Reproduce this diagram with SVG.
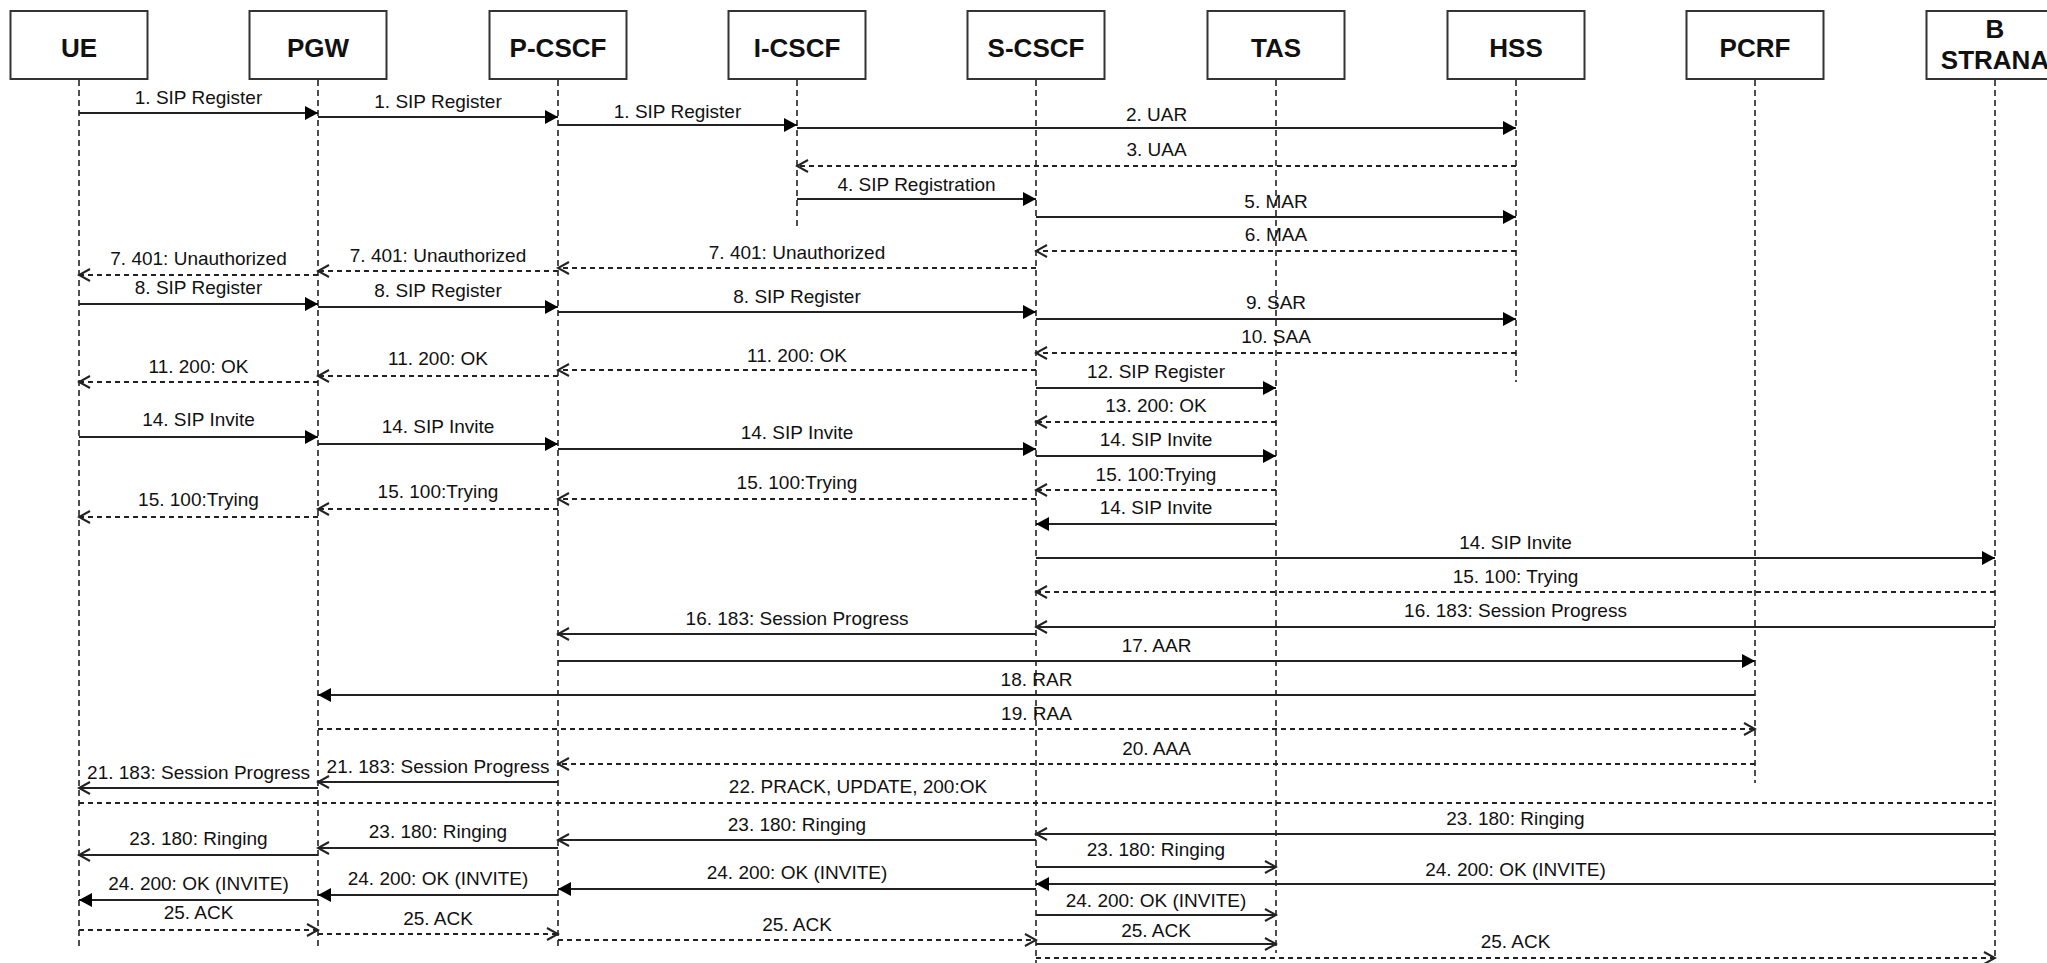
<svg xmlns="http://www.w3.org/2000/svg" width="2047" height="963" viewBox="0 0 2047 963">
<style>
.box{fill:#fff;stroke:#333;stroke-width:2}
.bt{font-family:"Liberation Sans",Arial,sans-serif;font-weight:bold;font-size:26px;text-anchor:middle;fill:#111}
.life{stroke:#222;stroke-width:1.6;stroke-dasharray:6 4;fill:none}
.m{stroke:#222;stroke-width:2;fill:none}
.d{stroke-dasharray:5 4}
.f{marker-end:url(#fa)}
.o{marker-end:url(#oa)}
.lb{font-family:"Liberation Sans",Arial,sans-serif;font-size:19px;text-anchor:middle;fill:#111}
</style>
<defs>
<marker id="fa" markerUnits="userSpaceOnUse" markerWidth="14" markerHeight="14" refX="13" refY="7" orient="auto"><path d="M0,0 L13,7 L0,14 z" fill="#000"/></marker>
<marker id="oa" markerUnits="userSpaceOnUse" markerWidth="14" markerHeight="14" refX="12" refY="7" orient="auto"><path d="M1,1 L12,7 L1,13" fill="none" stroke="#222" stroke-width="2"/></marker>
</defs>
<rect width="2047" height="963" fill="#fff"/>
<g id="lifelines">
<line class="life" x1="79" y1="80" x2="79" y2="947"/>
<line class="life" x1="318" y1="80" x2="318" y2="947"/>
<line class="life" x1="558" y1="80" x2="558" y2="947"/>
<line class="life" x1="797" y1="80" x2="797" y2="228"/>
<line class="life" x1="1036" y1="80" x2="1036" y2="963"/>
<line class="life" x1="1276" y1="80" x2="1276" y2="953"/>
<line class="life" x1="1516" y1="80" x2="1516" y2="382"/>
<line class="life" x1="1755" y1="80" x2="1755" y2="783"/>
<line class="life" x1="1995" y1="80" x2="1995" y2="958"/>
</g>
<g id="UE"><rect class="box" x="10.5" y="11" width="137" height="68"/><text class="bt" x="79" y="57">UE</text></g>
<g id="PGW"><rect class="box" x="249.5" y="11" width="137" height="68"/><text class="bt" x="318" y="57">PGW</text></g>
<g id="P-CSCF"><rect class="box" x="489.5" y="11" width="137" height="68"/><text class="bt" x="558" y="57">P-CSCF</text></g>
<g id="I-CSCF"><rect class="box" x="728.5" y="11" width="137" height="68"/><text class="bt" x="797" y="57">I-CSCF</text></g>
<g id="S-CSCF"><rect class="box" x="967.5" y="11" width="137" height="68"/><text class="bt" x="1036" y="57">S-CSCF</text></g>
<g id="TAS"><rect class="box" x="1207.5" y="11" width="137" height="68"/><text class="bt" x="1276" y="57">TAS</text></g>
<g id="HSS"><rect class="box" x="1447.5" y="11" width="137" height="68"/><text class="bt" x="1516" y="57">HSS</text></g>
<g id="PCRF"><rect class="box" x="1686.5" y="11" width="137" height="68"/><text class="bt" x="1755" y="57">PCRF</text></g>
<g id="B-STRANA"><rect class="box" x="1926.5" y="11" width="137" height="68"/><text class="bt" x="1995" y="38">B</text><text class="bt" x="1995" y="69">STRANA</text></g>
<g id="connectors">
<line class="m f" x1="79" y1="113" x2="318" y2="113"/>
<line class="m f" x1="318" y1="117" x2="558" y2="117"/>
<line class="m f" x1="558" y1="125" x2="797" y2="125"/>
<line class="m f" x1="797" y1="128" x2="1516" y2="128"/>
<line class="m d o" x1="1516" y1="166" x2="797" y2="166"/>
<line class="m f" x1="797" y1="199" x2="1036" y2="199"/>
<line class="m f" x1="1036" y1="217" x2="1516" y2="217"/>
<line class="m d o" x1="1516" y1="251" x2="1036" y2="251"/>
<line class="m d o" x1="1036" y1="268" x2="558" y2="268"/>
<line class="m d o" x1="558" y1="271" x2="318" y2="271"/>
<line class="m d o" x1="318" y1="275" x2="79" y2="275"/>
<line class="m f" x1="79" y1="304" x2="318" y2="304"/>
<line class="m f" x1="318" y1="307" x2="558" y2="307"/>
<line class="m f" x1="558" y1="312" x2="1036" y2="312"/>
<line class="m f" x1="1036" y1="319" x2="1516" y2="319"/>
<line class="m d o" x1="1516" y1="353" x2="1036" y2="353"/>
<line class="m d o" x1="1036" y1="370" x2="558" y2="370"/>
<line class="m d o" x1="558" y1="376" x2="318" y2="376"/>
<line class="m d o" x1="318" y1="382" x2="79" y2="382"/>
<line class="m f" x1="1036" y1="388" x2="1276" y2="388"/>
<line class="m d o" x1="1276" y1="422" x2="1036" y2="422"/>
<line class="m f" x1="79" y1="437" x2="318" y2="437"/>
<line class="m f" x1="318" y1="444" x2="558" y2="444"/>
<line class="m f" x1="558" y1="449" x2="1036" y2="449"/>
<line class="m f" x1="1036" y1="456" x2="1276" y2="456"/>
<line class="m d o" x1="1276" y1="490" x2="1036" y2="490"/>
<line class="m d o" x1="1036" y1="499" x2="558" y2="499"/>
<line class="m d o" x1="558" y1="509" x2="318" y2="509"/>
<line class="m d o" x1="318" y1="517" x2="79" y2="517"/>
<line class="m f" x1="1276" y1="524" x2="1036" y2="524"/>
<line class="m f" x1="1036" y1="558" x2="1995" y2="558"/>
<line class="m d o" x1="1995" y1="592" x2="1036" y2="592"/>
<line class="m o" x1="1995" y1="627" x2="1036" y2="627"/>
<line class="m o" x1="1036" y1="634" x2="558" y2="634"/>
<line class="m f" x1="558" y1="661" x2="1755" y2="661"/>
<line class="m f" x1="1755" y1="695" x2="318" y2="695"/>
<line class="m d o" x1="318" y1="729" x2="1755" y2="729"/>
<line class="m d o" x1="1755" y1="764" x2="558" y2="764"/>
<line class="m o" x1="558" y1="782" x2="318" y2="782"/>
<line class="m o" x1="318" y1="788" x2="79" y2="788"/>
<line class="m d" x1="79" y1="803" x2="1995" y2="803"/>
<line class="m o" x1="1995" y1="834" x2="1036" y2="834"/>
<line class="m o" x1="1036" y1="840" x2="558" y2="840"/>
<line class="m o" x1="558" y1="848" x2="318" y2="848"/>
<line class="m o" x1="318" y1="855" x2="79" y2="855"/>
<line class="m o" x1="1036" y1="867" x2="1276" y2="867"/>
<line class="m f" x1="1995" y1="884" x2="1036" y2="884"/>
<line class="m f" x1="1036" y1="889" x2="558" y2="889"/>
<line class="m f" x1="558" y1="895" x2="318" y2="895"/>
<line class="m f" x1="318" y1="900" x2="79" y2="900"/>
<line class="m o" x1="1036" y1="915" x2="1276" y2="915"/>
<line class="m d o" x1="79" y1="930" x2="318" y2="930"/>
<line class="m d o" x1="318" y1="934" x2="558" y2="934"/>
<line class="m d o" x1="558" y1="940" x2="1036" y2="940"/>
<line class="m o" x1="1036" y1="944" x2="1276" y2="944"/>
<line class="m d o" x1="1036" y1="958" x2="1995" y2="958"/>
</g>
<g id="labels">
<text class="lb" x="198.5" y="104">1. SIP Register</text>
<text class="lb" x="438" y="108">1. SIP Register</text>
<text class="lb" x="677.5" y="118">1. SIP Register</text>
<text class="lb" x="1156.5" y="121">2. UAR</text>
<text class="lb" x="1156.5" y="156">3. UAA</text>
<text class="lb" x="916.5" y="191">4. SIP Registration</text>
<text class="lb" x="1276" y="208">5. MAR</text>
<text class="lb" x="1276" y="241">6. MAA</text>
<text class="lb" x="797" y="259">7. 401: Unauthorized</text>
<text class="lb" x="438" y="262">7. 401: Unauthorized</text>
<text class="lb" x="198.5" y="265">7. 401: Unauthorized</text>
<text class="lb" x="198.5" y="294">8. SIP Register</text>
<text class="lb" x="438" y="297">8. SIP Register</text>
<text class="lb" x="797" y="303">8. SIP Register</text>
<text class="lb" x="1276" y="309">9. SAR</text>
<text class="lb" x="1276" y="343">10. SAA</text>
<text class="lb" x="797" y="362">11. 200: OK</text>
<text class="lb" x="438" y="365">11. 200: OK</text>
<text class="lb" x="198.5" y="373">11. 200: OK</text>
<text class="lb" x="1156" y="378">12. SIP Register</text>
<text class="lb" x="1156" y="412">13. 200: OK</text>
<text class="lb" x="198.5" y="426">14. SIP Invite</text>
<text class="lb" x="438" y="433">14. SIP Invite</text>
<text class="lb" x="797" y="439">14. SIP Invite</text>
<text class="lb" x="1156" y="446">14. SIP Invite</text>
<text class="lb" x="1156" y="481">15. 100:Trying</text>
<text class="lb" x="797" y="489">15. 100:Trying</text>
<text class="lb" x="438" y="498">15. 100:Trying</text>
<text class="lb" x="198.5" y="506">15. 100:Trying</text>
<text class="lb" x="1156" y="514">14. SIP Invite</text>
<text class="lb" x="1515.5" y="549">14. SIP Invite</text>
<text class="lb" x="1515.5" y="583">15. 100: Trying</text>
<text class="lb" x="1515.5" y="617">16. 183: Session Progress</text>
<text class="lb" x="797" y="625">16. 183: Session Progress</text>
<text class="lb" x="1156.5" y="652">17. AAR</text>
<text class="lb" x="1036.5" y="686">18. RAR</text>
<text class="lb" x="1036.5" y="720">19. RAA</text>
<text class="lb" x="1156.5" y="755">20. AAA</text>
<text class="lb" x="438" y="773">21. 183: Session Progress</text>
<text class="lb" x="198.5" y="779">21. 183: Session Progress</text>
<text class="lb" x="858" y="793">22. PRACK, UPDATE, 200:OK</text>
<text class="lb" x="1515.5" y="825">23. 180: Ringing</text>
<text class="lb" x="797" y="831">23. 180: Ringing</text>
<text class="lb" x="438" y="838">23. 180: Ringing</text>
<text class="lb" x="198.5" y="845">23. 180: Ringing</text>
<text class="lb" x="1156" y="856">23. 180: Ringing</text>
<text class="lb" x="1515.5" y="876">24. 200: OK (INVITE)</text>
<text class="lb" x="797" y="879">24. 200: OK (INVITE)</text>
<text class="lb" x="438" y="885">24. 200: OK (INVITE)</text>
<text class="lb" x="198.5" y="890">24. 200: OK (INVITE)</text>
<text class="lb" x="1156" y="907">24. 200: OK (INVITE)</text>
<text class="lb" x="198.5" y="919">25. ACK</text>
<text class="lb" x="438" y="925">25. ACK</text>
<text class="lb" x="797" y="931">25. ACK</text>
<text class="lb" x="1156" y="937">25. ACK</text>
<text class="lb" x="1515.5" y="948">25. ACK</text>
</g>
</svg>
